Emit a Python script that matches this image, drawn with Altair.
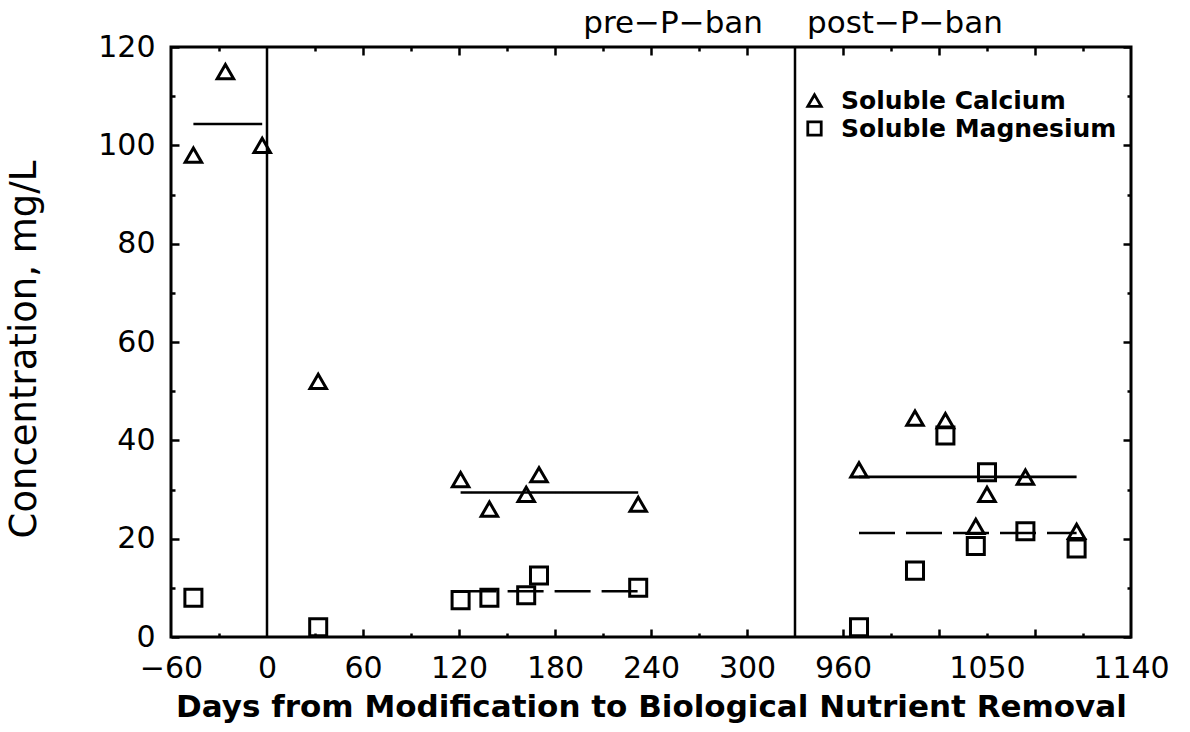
import altair as alt
import pandas as pd

# ---- data -----------------------------------------------------------------
# Soluble calcium (mg/L) by day relative to the BNR modification (day 0)
ca_days = [-46, -26, -3, 32, 121, 139, 162, 170, 232,
           970, 1005, 1024, 1043, 1050, 1074, 1106]
ca_conc = [98, 115, 100, 52, 32, 26, 29, 33, 27,
           34, 44.5, 44, 22.5, 29, 32.5, 21.5]
ca_period = ["pre-BNR"] * 3 + ["start-up"] + ["pre-P-ban"] * 5 + ["post-P-ban"] * 7

# Soluble magnesium (mg/L)
mg_days = [-46, 32, 121, 139, 162, 170, 232,
           970, 1005, 1024, 1043, 1050, 1074, 1106]
mg_conc = [8, 2, 7.5, 8, 8.5, 12.5, 10,
           2, 13.5, 41, 18.5, 33.5, 21.5, 18]
mg_period = ["pre-BNR", "start-up"] + ["pre-P-ban"] * 5 + ["post-P-ban"] * 7

series_names = ["Soluble Calcium", "Soluble Magnesium"]

# broken day axis: the stretch between break_lo and break_hi is cut out
break_lo, break_hi = 330, 930
x_label_days = [-60, 0, 60, 120, 180, 240, 300, 960, 1050, 1140]
x_major_days = [60, 120, 180, 240, 300, 960, 1020, 1080]
x_minor_days = [-30, 30, 90, 150, 210, 270, 990, 1050, 1110]
y_label_vals = [0, 20, 40, 60, 80, 100, 120]
y_minor_vals = [10, 30, 50, 70, 90, 110]

GAP = break_hi - break_lo
FONT = "DejaVu Sans"


def to_pos(day):
    """Map a day onto the continuous (broken) plotting coordinate."""
    return day if day <= break_lo else day - GAP


# ---- tables ---------------------------------------------------------------
ca = pd.DataFrame({"day": ca_days, "conc": ca_conc, "period": ca_period,
                   "series": series_names[0]})
mg = pd.DataFrame({"day": mg_days, "conc": mg_conc, "period": mg_period,
                   "series": series_names[1]})
for df in (ca, mg):
    df["pos"] = df["day"].map(to_pos)


def period_means(df):
    """Mean of each period (start-up excluded), spanning its first to last sample."""
    g = (df[df["period"] != "start-up"]
         .groupby("period", as_index=False)
         .agg(first=("day", "min"), last=("day", "max"),
              mean=("conc", "mean"), n=("conc", "size")))
    g = g[g["n"] > 1].copy()
    g["pos0"] = g["first"].map(to_pos)
    g["pos1"] = g["last"].map(to_pos)
    return g


ca_means = period_means(ca)
mg_means = period_means(mg)

dividers = pd.DataFrame({"pos": [to_pos(0), to_pos(break_lo)]})
break_df = pd.DataFrame({"pos": [to_pos(break_lo)]})

x_scale = alt.Scale(domain=[to_pos(-60), to_pos(1140)], nice=False, zero=False)
y_scale = alt.Scale(domain=[0, 120], nice=False, zero=True)
shape_scale = alt.Scale(domain=series_names, range=["triangle-up", "square"])

label_expr = f"format(datum.value > {break_lo} ? datum.value + {GAP} : datum.value, 'd')"

legend = alt.Legend(orient="none", legendX=631, legendY=41, title=None,
                    padding=0, rowPadding=2, labelFont=FONT, labelFontSize=25,
                    labelFontWeight="bold", labelColor="black", labelOffset=14,
                    labelLimit=500, symbolSize=180, symbolStrokeWidth=2.8,
                    symbolStrokeColor="black", symbolFillColor="white")


def tick_axis(orient, values, size):
    return alt.Axis(orient=orient, values=values, offset=-size, tickSize=size,
                    labels=False, domain=False, grid=False, title=None,
                    tickWidth=2.5, tickColor="black")


# ---- layers ---------------------------------------------------------------
divider_rules = alt.Chart(dividers).mark_rule(color="black", strokeWidth=2.5).encode(
    x=alt.X("pos:Q", scale=x_scale, axis=None)
)


def mean_rule(df, dash):
    return alt.Chart(df).mark_rule(color="black", strokeWidth=2.6, strokeDash=dash).encode(
        x=alt.X("pos0:Q", scale=x_scale, axis=None),
        x2="pos1:Q",
        y=alt.Y("mean:Q", scale=y_scale, axis=None),
    )


ca_line = mean_rule(ca_means, [1, 0])
mg_line = mean_rule(mg_means, [36, 11])

x_main_axis = alt.Axis(
    orient="bottom", values=[to_pos(d) for d in x_label_days], labelExpr=label_expr,
    ticks=False, tickSize=0, domain=False, grid=False, labelPadding=16,
    labelFontSize=30, labelFont=FONT, labelColor="black",
    labelOverlap=False, labelFlush=False, labelBound=False,
    title="Days from Modification to Biological Nutrient Removal",
    titleFont=FONT, titleFontSize=31, titleFontWeight="bold", titleColor="black",
    titleX=480, titleY=79, titleBaseline="alphabetic", titleAlign="center")

y_main_axis = alt.Axis(
    orient="left", values=y_label_vals, ticks=False, tickSize=0, domain=False,
    grid=False, labelPadding=16, labelFontSize=30, labelFont=FONT,
    labelColor="black", labelOverlap=False, labelFlush=False,
    title="Concentration, mg/L", titleFont=FONT, titleFontSize=37,
    titleFontWeight="normal", titleColor="black", titleAngle=270,
    titleBaseline="alphabetic", titleAlign="center", titleX=-136, titleY=302)

ca_points = alt.Chart(ca).mark_point(filled=False, color="black", strokeWidth=3,
                                     size=270, opacity=1).encode(
    x=alt.X("pos:Q", scale=x_scale, axis=x_main_axis),
    y=alt.Y("conc:Q", scale=y_scale, axis=y_main_axis),
    shape=alt.Shape("series:N", scale=shape_scale, legend=legend),
)

mg_points = alt.Chart(mg).mark_point(filled=False, color="black", strokeWidth=3,
                                     size=290, opacity=1).encode(
    x=alt.X("pos:Q", scale=x_scale, axis=None),
    y=alt.Y("conc:Q", scale=y_scale, axis=None),
    shape=alt.Shape("series:N", scale=shape_scale, legend=legend),
)

# inward tick marks on all four sides
carrier = alt.Chart(ca).mark_point(opacity=0)
tick_layers = []
for xo, yo, xv, yv, s in [
    ("bottom", "left", x_major_days, y_label_vals, 8),
    ("bottom", "left", x_minor_days, y_minor_vals, 4),
    ("top", "right", x_major_days, y_label_vals, 8),
    ("top", "right", x_minor_days, y_minor_vals, 4),
]:
    tick_layers.append(carrier.encode(
        x=alt.X("pos:Q", scale=x_scale, axis=tick_axis(xo, [to_pos(d) for d in xv], s)),
        y=alt.Y("conc:Q", scale=y_scale, axis=tick_axis(yo, yv, s)),
    ))

pre_text = alt.Chart(break_df).mark_text(
    text="pre−P−ban", align="right", baseline="alphabetic", dx=-32,
    font=FONT, fontSize=31, color="black"
).encode(x=alt.X("pos:Q", scale=x_scale, axis=None), y=alt.value(-14))

post_text = alt.Chart(break_df).mark_text(
    text="post−P−ban", align="left", baseline="alphabetic", dx=12,
    font=FONT, fontSize=31, color="black"
).encode(x=alt.X("pos:Q", scale=x_scale, axis=None), y=alt.value(-14))

chart = alt.layer(
    *tick_layers, divider_rules, ca_line, mg_line, ca_points, mg_points,
    pre_text, post_text
).resolve_axis(
    x="independent", y="independent"
).properties(
    width=960, height=590,
    autosize=alt.AutoSizeParams(type="none"),
    padding={"left": 171, "top": 47, "right": 59, "bottom": 95},
    background="white",
).configure_view(
    stroke="black", strokeWidth=3
)

chart.save("out.html", embed_options={"renderer": "svg", "actions": False})
